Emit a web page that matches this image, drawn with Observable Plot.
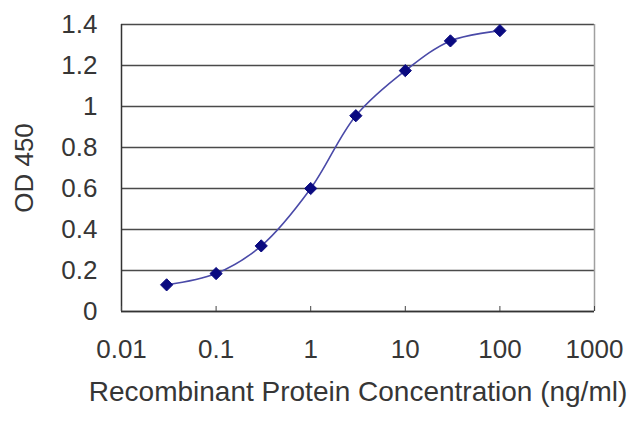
<!DOCTYPE html>
<html>
<head>
<meta charset="utf-8">
<script src="https://cdn.jsdelivr.net/npm/d3@7"></script>
<script src="https://cdn.jsdelivr.net/npm/@observablehq/plot@0.6"></script>
<style>
  html, body { margin: 0; padding: 0; background: #fff; }
</style>
</head>
<body>
<div id="chart"></div>
<script>
const concentrations = [0.03, 0.1, 0.3, 1, 3, 10, 30, 100];
const od450 = [0.13, 0.185, 0.32, 0.6, 0.955, 1.175, 1.32, 1.37];
const xTicks = [0.01, 0.1, 1, 10, 100, 1000];
const xTickLabels = ["0.01", "0.1", "1", "10", "100", "1000"];
const yTicks = [0, 0.2, 0.4, 0.6, 0.8, 1, 1.2, 1.4];
const yTickLabels = ["0", "0.2", "0.4", "0.6", "0.8", "1", "1.2", "1.4"];
const xTitle = "Recombinant Protein Concentration (ng/ml)";
const yTitle = "OD 450";

const data = concentrations.map((c, i) => ({c, od: od450[i]}));
const textColor = "#363636";

const chart = Plot.plot({
  width: 640,
  height: 427,
  marginLeft: 121,
  marginRight: 46,
  marginTop: 24,
  marginBottom: 116,
  style: {fontFamily: "Liberation Sans, Arial, sans-serif", fontSize: "26px", color: textColor, background: "#fff"},
  x: {type: "log", domain: [0.01, 1000]},
  y: {domain: [0, 1.4]},
  marks: [
    Plot.gridY(yTicks, {stroke: "#4a4a4a", strokeOpacity: 1, strokeWidth: 1.5}),
    Plot.ruleX([1000], {stroke: "#a0a0a0", strokeWidth: 1.5}),
    Plot.ruleX([0.01], {stroke: "#333", strokeWidth: 1.5}),
    Plot.ruleY([0], {stroke: "#333", strokeWidth: 1.5}),
    Plot.axisX(xTicks, {tickSize: 5, dy: -5, text: null, stroke: "#444", label: null}),
    Plot.axisX(xTicks, {
      tickSize: 0, tickPadding: 28,
      tickFormat: d => xTickLabels[xTicks.indexOf(d)],
      fill: textColor,
      label: null,
      fontSize: 26
    }),
    Plot.text([xTitle], {frameAnchor: "bottom", lineAnchor: "middle", dy: 81, fontSize: 28, fill: textColor}),
    Plot.axisY(yTicks, {
      tickSize: 0, tickPadding: 24,
      tickFormat: d => yTickLabels[yTicks.indexOf(d)],
      fill: textColor,
      label: yTitle, labelAnchor: "center", labelArrow: "none", labelOffset: 107,
      fontSize: 26
    }),
    Plot.line(data, {x: "c", y: "od", curve: "catmull-rom", stroke: "#4a4aa8", strokeWidth: 1.6}),
    Plot.dot(data, {x: "c", y: "od", symbol: "diamond2", r: 5.5, fill: "#0a0a80", stroke: "#0a0a80", strokeWidth: 1})
  ]
});
document.getElementById("chart").appendChild(chart);
</script>
</body>
</html>
